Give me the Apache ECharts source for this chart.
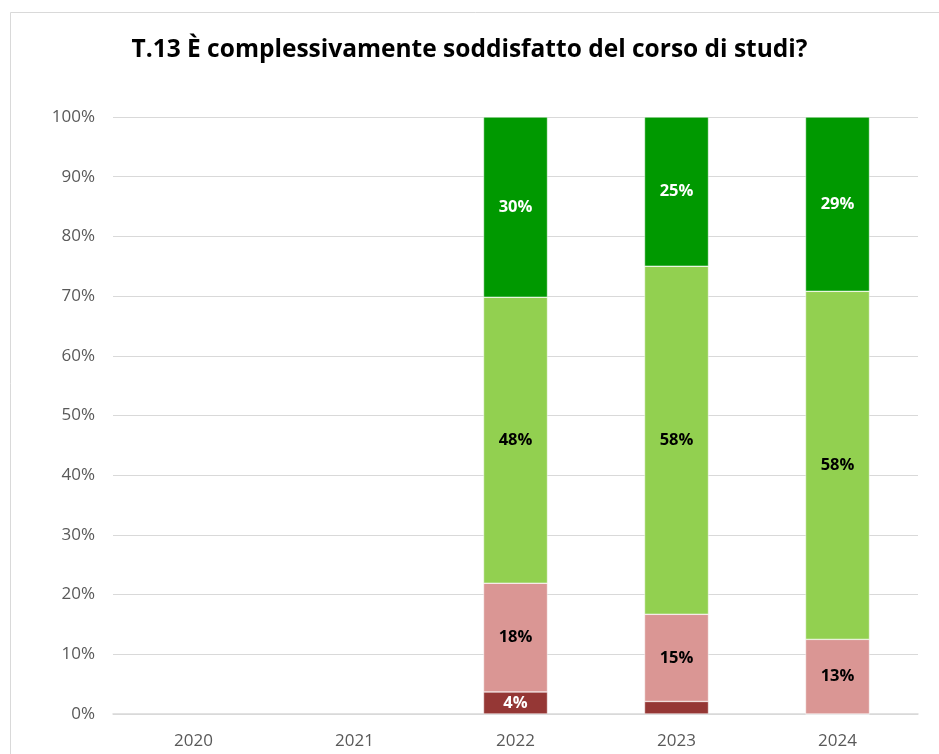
<!DOCTYPE html>
<html>
<head>
<meta charset="utf-8">
<script src="https://cdn.jsdelivr.net/npm/echarts@6/dist/echarts.min.js"></script>
<style>
    html, body { margin: 0; padding: 0; background: #fff; }
    #chart { width: 939px; height: 754px; }
</style>
</head>
<body>
<div id="chart"></div>
<script>
const years = ["2020", "2021", "2022", "2023", "2024"];
// percentuali per risposta
const decisamenteNo = [null, null, 3.7, 2.1, 0];
const piuNoCheSi = [null, null, 18.2, 14.6, 12.5];
const piuSiCheNo = [null, null, 47.9, 58.3, 58.3];
const decisamenteSi = [null, null, 30.2, 25.0, 29.2];

const chart = echarts.init(document.getElementById("chart"));

const label = (color) => ({
    show: true,
    position: "inside",
    color: color,
    fontFamily: "Open Sans",
    fontWeight: "bold",
    fontSize: 16.5,
    formatter: (p) => (p.value >= 3 ? Math.round(p.value) + "%" : ""),
});

const mkSeries = (name, data, color, labelColor) => ({
    name: name,
    type: "bar",
    stack: "tot",
    barWidth: 64,
    data: data,
    itemStyle: {
        color: color,
        borderColor: "#ffffff",
        borderWidth: 0.5,
    },
    label: label(labelColor),
});

let options = {
    animation: false,
    backgroundColor: "#ffffff",
    title: {
        text: "T.13 È complessivamente soddisfatto del corso di studi?",
        left: "center",
        top: 33,
        textStyle: {
            fontFamily: "Open Sans",
            fontWeight: "bold",
            fontSize: 24.5,
            color: "#000000",
        },
    },
    graphic: [
        {
            type: "rect",
            shape: { x: 10.5, y: 12.5, width: 960, height: 800 },
            style: { fill: "none", stroke: "#d9d9d9", lineWidth: 1 },
            silent: true,
        },
    ],
    grid: {
        left: 113,
        right: 21,
        top: 117,
        bottom: 40,
    },
    xAxis: {
        type: "category",
        data: years,
        axisTick: { show: false },
        axisLine: { lineStyle: { color: "#d9d9d9", width: 1.5 } },
        axisLabel: {
            color: "#595959",
            fontFamily: "Open Sans",
            fontSize: 17,
            margin: 19,
        },
    },
    yAxis: {
        type: "value",
        min: 0,
        max: 100,
        interval: 10,
        axisLine: { show: false },
        axisTick: { show: false },
        splitLine: { lineStyle: { color: "#d9d9d9", width: 1 } },
        axisLabel: {
            color: "#595959",
            fontFamily: "Open Sans",
            fontSize: 17,
            margin: 18,
            formatter: "{value}%",
        },
    },
    series: [
        mkSeries("Decisamente no", decisamenteNo, "#953735", "#ffffff"),
        mkSeries("Più no che sì", piuNoCheSi, "#da9694", "#000000"),
        mkSeries("Più sì che no", piuSiCheNo, "#92d050", "#000000"),
        mkSeries("Decisamente sì", decisamenteSi, "#009900", "#ffffff"),
    ],
};

chart.setOption(options);
</script>
</body>
</html>
